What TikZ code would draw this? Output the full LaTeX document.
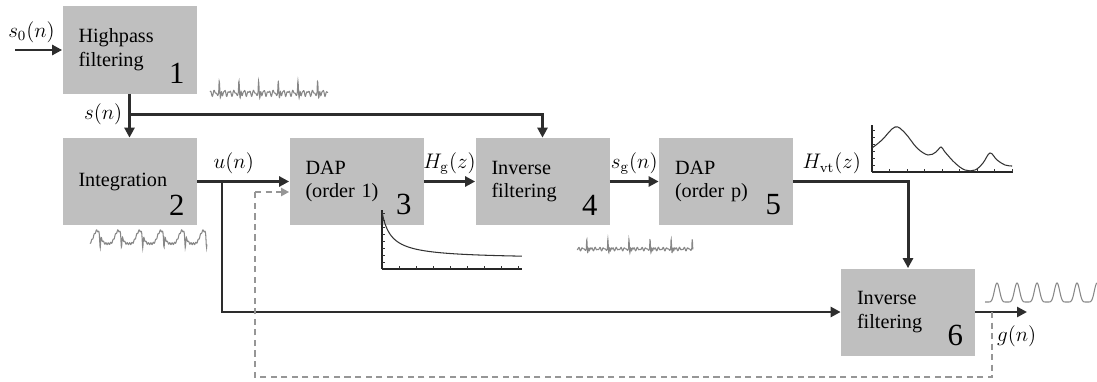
\documentclass[tikz,border=0pt]{standalone}
\usepackage[no-math]{fontspec}
\setmainfont{Liberation Serif}
\usetikzlibrary{arrows.meta,positioning,calc}
\definecolor{boxgray}{RGB}{191,191,191}
\definecolor{linegray}{RGB}{45,45,45}
\definecolor{dashgray}{RGB}{150,150,150}
\definecolor{wavegray}{RGB}{135,135,135}

\begin{document}
\begin{tikzpicture}[font=\fontsize{11.5}{13.5}\selectfont,
 blk/.style={fill=boxgray,minimum width=2.68cm,minimum height=1.74cm,text width=2.04cm,align=left,inner sep=0pt},
 num/.style={font=\fontsize{17.5}{20}\selectfont,inner sep=0pt},
 arr/.style={-{Triangle[length=2mm,width=2mm]},line width=1.7pt,draw=linegray},
 fb/.style={-{Triangle[length=1.6mm,width=1.6mm]},line width=1.4pt,draw=dashgray,dash pattern=on 3.5pt off 2.5pt},
 sig/.style={font=\fontsize{12}{14}\selectfont},
 wave/.style={draw=wavegray,line width=0.6pt},
 curve/.style={draw=black!80,line width=0.6pt},
 tick/.style={draw=black!80,line width=0.4pt},
 declare function={
  hpa(\t)=1.3*exp(-\t/40)*sin(9*\t)+0.25*sin(4*\t+30)+0.15*sin(7*\t);
  res(\t)=1.4*exp(-\t/25)*sin(12*\t)+0.15*sin(5*\t+40)+0.1*sin(8*\t);
  intg(\t)=((1-cos(\t))/2)^2-0.9*exp(-min(((\t-232)/10)^2,30))+0.07*sin(9*\t)-0.05;
  glt(\t)=((1+cos(\t))/2)^3;}]
\useasboundingbox (0,0) rectangle (21.94,-7.62);
% blocks
\node[blk] (hp) at (2.59,-1.00) {Highpass\\filtering};
\node[num,above left=0.2cm and 0.24cm of hp.south east] (hpn) {1};
\node[blk] (integ) at (2.59,-3.63) {Integration};
\node[num,above left=0.2cm and 0.24cm of integ.south east] (integn) {2};
\node[blk] (dap1) at (7.13,-3.63) {DAP\\(order 1)};
\node[num,above left=0.2cm and 0.24cm of dap1.south east] (dap1n) {3};
\node[blk] (inv1) at (10.85,-3.63) {Inverse\\filtering};
\node[num,above left=0.2cm and 0.24cm of inv1.south east] (inv1n) {4};
\node[blk] (dapp) at (14.52,-3.63) {DAP\\(order p)};
\node[num,above left=0.2cm and 0.24cm of dapp.south east] (dappn) {5};
\node[blk] (inv2) at (18.16,-6.24) {Inverse\\filtering};
\node[num,above left=0.2cm and 0.24cm of inv2.south east] (inv2n) {6};
% branch points
\coordinate (in) at (0.30,-1.00);
\coordinate (sj) at (2.59,-2.29);
\coordinate (uj) at (4.44,-3.63);
\coordinate (fbtop) at (5.10,-3.84);
\coordinate (fbbot) at (5.10,-7.54);
\coordinate (gtap) at (19.84,-6.24);
\coordinate (gout) at (20.54,-6.24);
% signal flow
\draw[arr] (in) -- node[sig,above,pos=0.35]{$s_0(n)$} (hp);
\draw[arr] (hp) -- (integ);
\draw[arr] (sj) node[sig,left]{$s(n)$} -| (inv1);
\draw[arr] (integ) -- node[sig,above,pos=0.4]{$u(n)$} (dap1);
\draw[arr] (uj) |- (inv2);
\draw[arr] (dap1) -- node[sig,above]{$H_{\mathrm{g}}(z)$} (inv1);
\draw[arr] (inv1) -- node[sig,above]{$s_{\mathrm{g}}(n)$} (dapp);
\draw[arr] (dapp) -| node[sig,above,pos=0.168]{$H_{\mathrm{vt}}(z)$} (inv2);
\draw[arr] (inv2) -- node[sig,below,pos=0.8,yshift=-0.12cm]{$g(n)$} (gout);
\draw[fb] (fbtop) -- (fbtop -| dap1.west);
\draw[fb,-] (gtap) |- (fbbot) -- (fbtop);
% waveforms
\draw[wave] plot[domain=0:2.36,samples=500] ({4.20+\x},{-1.86+0.17*hpa(mod(\x*915.25+200,360))});
\draw[wave] plot[domain=0:2.34,samples=400] ({1.80+\x},{-4.86+0.26*intg(mod(\x*846.15+60,360))});
\draw[wave] plot[domain=0:2.32,samples=600] ({11.54+\x},{-4.98+0.15*res(mod(\x*853.4+200,360))});
\draw[wave] plot[domain=0:2.24,samples=220] ({19.70+\x},{-6.04+0.38*glt(mod(\x*900+144,360))});
% order 1 envelope
\draw[line width=0.6pt,black!85] (7.64,-4.20) -- (7.64,-5.38);
\draw[line width=1.1pt,black!85] (7.64,-5.38) -- (10.44,-5.38);
\foreach \i in {1,...,8} \draw[tick] (7.64,-5.38+0.14*\i) -- ++(0.06,0);
\foreach \i in {1,...,8} \draw[tick] (7.64+0.34*\i,-5.38) -- ++(0,0.06);
\draw[curve] plot[domain=0:2.8,samples=100] ({7.64+\x},{-5.18+0.94/(1+5.556*\x)});
% order p envelope
\draw[line width=0.6pt,black!85] (17.44,-2.50) -- (17.44,-3.44);
\draw[line width=1.1pt,black!85] (17.44,-3.44) -- (20.26,-3.44);
\foreach \i in {1,...,6} \draw[tick] (17.44,-3.44+0.14*\i) -- ++(0.06,0);
\foreach \i in {1,...,8} \draw[tick] (17.44+0.35*\i,-3.44) -- ++(0,0.06);
\draw[curve] plot[smooth,tension=0.6] coordinates {(17.44,-2.96) (17.64,-2.80) (17.90,-2.54) (18.10,-2.66) (18.34,-2.96) (18.56,-3.10) (18.72,-3.04) (18.82,-2.94) (18.90,-3.04) (19.10,-3.26) (19.30,-3.40) (19.50,-3.40) (19.66,-3.26) (19.80,-3.06) (19.94,-3.20) (20.10,-3.30) (20.24,-3.32)};
\end{tikzpicture}
\end{document}
